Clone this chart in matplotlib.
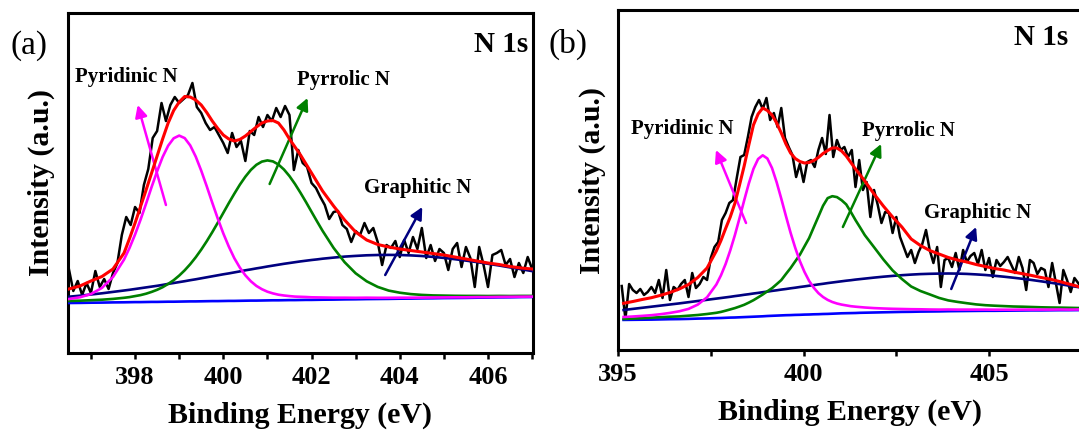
import numpy as np
import matplotlib
matplotlib.use("Agg")
import matplotlib.pyplot as plt
from matplotlib.ticker import MultipleLocator

plt.rcParams['font.family'] = ['Liberation Serif', 'DejaVu Serif']

# ---------------- panel (a) ----------------
# raw spectrum, 0.1 eV steps from 396.5 eV
a_raw_start = 396.5
a_raw = [84, 62, 72, 58, 70, 60, 82, 66, 74, 64,
         80, 90, 118, 136, 128, 146, 140, 168, 184, 215,
         222, 250, 232, 248, 256, 250, 254, 258, 270, 246,
         240, 230, 223, 226, 218, 210, 200, 220, 206, 212,
         192, 222, 218, 236, 226, 238, 232, 245, 236, 247,
         238, 183, 203, 190, 186, 170, 165, 156, 148, 134,
         141, 142, 128, 124, 111, 122, 118, 130, 120, 125,
         111, 88, 108, 105, 112, 96, 113, 100, 116, 104,
         125, 95, 108, 92, 104, 100, 83, 104, 110, 86,
         106, 95, 66, 106, 88, 66, 98, 100, 103, 88,
         94, 76, 90, 80, 96, 84]
# fitted curves
a_fit_x = [396.5, 396.75, 397.0, 397.25, 397.5, 397.75, 397.875, 398.0,
           398.125, 398.25, 398.375, 398.5, 398.625, 398.75, 398.875, 399.0,
           399.125, 399.25, 399.375, 399.5, 399.625, 399.75, 399.875, 400.0,
           400.125, 400.25, 400.375, 400.5, 400.625, 400.75, 400.875, 401.0,
           401.125, 401.25, 401.375, 401.5, 401.625, 401.75, 401.875, 402.0,
           402.125, 402.25, 402.5, 402.75, 403.0, 403.25, 403.5, 403.75,
           404.0, 404.25, 404.5, 404.75, 405.0, 405.25, 405.5, 405.75,
           406.0, 406.25, 406.5, 406.75, 407.0]
a_envelope = [64, 67, 72, 76.5, 84, 100, 114.5, 130,
              146.5, 163, 180, 197, 214, 230, 242.5, 251,
              256.5, 256, 253, 248, 240.5, 232, 224.5, 218,
              214, 212, 213.5, 217, 221.5, 226, 230, 232,
              232.5, 230, 223, 214, 206, 198, 189, 180,
              171, 162, 147, 133, 121, 113, 108.5, 106,
              104, 102.5, 101, 99.5, 98, 96, 94, 92,
              90, 88.5, 86.5, 85, 84]
a_pyridinic = [54.0, 55.7, 59.0, 65.1, 76.0, 93.4, 105.1, 118.5,
               133.4, 149.4, 166.0, 181.7, 196.0, 207.3, 214.7, 217.4,
               214.9, 207.6, 196.4, 182.3, 166.7, 150.3, 134.4, 119.6,
               106.4, 94.8, 85.4, 77.7, 71.7, 67.1, 63.8, 61.3,
               59.6, 58.3, 57.5, 56.9, 56.4, 56.2, 56.0, 55.7,
               55.6, 55.5, 55.3, 55.3, 55.2, 55.3, 55.2, 55.2,
               55.3, 55.3, 55.4, 55.5, 55.6, 55.7, 55.7, 55.9,
               55.9, 56.1, 56.2, 56.3, 56.4]
a_pyrrolic = [52.0, 52.3, 52.8, 53.3, 54.1, 55.2, 55.9, 56.9,
              57.9, 59.3, 61.1, 63.2, 65.8, 69.1, 72.8, 77.4,
              82.7, 88.8, 95.7, 103.4, 111.8, 120.8, 130.3, 140.1,
              149.9, 159.3, 168.3, 176.3, 183.1, 188.2, 191.4, 192.6,
              191.6, 188.5, 183.5, 176.9, 169.0, 160.2, 150.9, 141.2,
              131.6, 122.2, 105.1, 90.8, 79.7, 71.7, 66.1, 62.4,
              60.3, 58.9, 58.1, 57.6, 57.4, 57.2, 57.1, 57.1,
              57.0, 57.1, 57.0, 57.1, 57.1]
a_graphitic = [56.3, 57.3, 58.5, 59.7, 61.1, 62.5, 63.2, 64.0,
               64.8, 65.6, 66.4, 67.2, 68.1, 69.1, 70.0, 70.9,
               71.8, 72.8, 73.7, 74.7, 75.7, 76.7, 77.7, 78.7,
               79.6, 80.6, 81.6, 82.7, 83.6, 84.6, 85.5, 86.5,
               87.4, 88.3, 89.2, 90.0, 90.8, 91.6, 92.3, 93.0,
               93.6, 94.3, 95.4, 96.4, 97.1, 97.7, 98.0, 98.1,
               98.0, 97.6, 97.0, 96.1, 95.1, 93.8, 92.4, 90.9,
               89.2, 87.5, 85.6, 83.8, 81.9]
a_background = [50.0, 50.1, 50.3, 50.4, 50.6, 50.7, 50.8, 50.9,
                50.9, 51.0, 51.1, 51.1, 51.2, 51.3, 51.3, 51.4,
                51.5, 51.6, 51.6, 51.7, 51.8, 51.9, 51.9, 52.0,
                52.1, 52.1, 52.2, 52.3, 52.4, 52.4, 52.5, 52.6,
                52.7, 52.7, 52.8, 52.9, 52.9, 53.0, 53.1, 53.1,
                53.2, 53.3, 53.4, 53.6, 53.7, 53.9, 54.0, 54.1,
                54.3, 54.4, 54.6, 54.7, 54.9, 55.0, 55.1, 55.3,
                55.4, 55.6, 55.7, 55.9, 56.0]

# ---------------- panel (b) ----------------
b_raw_start = 395.1
b_raw = [64, 31, 66, 60, 57, 61, 55, 58, 63, 57,
         70, 52, 80, 50, 63, 60, 66, 70, 53, 77,
         62, 66, 73, 70, 92, 103, 108, 130, 137, 147,
         150, 172, 193, 195, 213, 233, 243, 250, 241, 252,
         230, 237, 223, 242, 212, 203, 195, 173, 186, 168,
         188, 190, 183, 200, 212, 196, 235, 193, 210, 200,
         203, 193, 200, 163, 190, 160, 168, 133, 160, 145,
         127, 138, 137, 117, 133, 113, 103, 93, 100, 87,
         98, 106, 120, 100, 87, 103, 63, 90, 92, 83,
         97, 80, 100, 88, 94, 97, 86, 100, 80, 92,
         73, 90, 84, 88, 93, 85, 77, 93, 82, 60,
         90, 87, 76, 82, 80, 63, 87, 67, 47, 80,
         70, 58, 72, 67, 62]
b_fit_x = [395.15, 395.4, 395.65, 395.9, 396.15, 396.4, 396.65, 396.9,
           397.15, 397.4, 397.65, 397.775, 397.9, 398.025, 398.15, 398.275,
           398.4, 398.525, 398.65, 398.775, 398.9, 399.025, 399.15, 399.275,
           399.4, 399.525, 399.65, 399.775, 399.9, 400.025, 400.15, 400.275,
           400.4, 400.525, 400.65, 400.775, 400.9, 401.025, 401.15, 401.275,
           401.4, 401.525, 401.65, 401.9, 402.15, 402.4, 402.65, 402.9,
           403.15, 403.4, 403.65, 403.9, 404.15, 404.4, 404.65, 404.9,
           405.15, 405.4, 405.65, 405.9, 406.15, 406.4, 406.65, 406.9,
           407.15, 407.4, 407.65]
b_envelope = [46.7, 48.5, 50.5, 52.3, 54.7, 57.5, 61.0, 65.5,
              72.5, 82, 99, 109.5, 121.5, 133, 146.7, 165,
              184, 205, 225, 236, 242, 239.5, 235, 227,
              217, 206, 197, 191.5, 188.5, 187, 187.5, 189.5,
              192.5, 196.5, 199.5, 202, 202, 199, 194, 187.5,
              181, 175, 169, 156, 144, 133, 123, 111,
              104.5, 99.5, 96, 92.5, 90, 88, 85.5, 83.5,
              81.5, 80, 78, 76.3, 74.5, 72.5, 70.8, 68.5,
              66, 63.5, 61]
b_pyridinic = [33.0, 33.5, 34.1, 34.8, 35.8, 37.1, 38.7, 41.1,
               45.4, 52.7, 65.5, 74.7, 86.0, 99.6, 114.9, 131.9,
               149.6, 166.5, 181.1, 191.0, 194.7, 191.5, 182.0, 167.8,
               151.3, 134.0, 117.3, 102.3, 89.0, 78.1, 69.1, 62.3,
               56.9, 53.0, 50.1, 48.0, 46.5, 45.4, 44.6, 43.8,
               43.3, 42.9, 42.5, 41.9, 41.5, 41.2, 41.0, 40.8,
               40.7, 40.5, 40.4, 40.5, 40.4, 40.4, 40.4, 40.4,
               40.3, 40.3, 40.3, 40.4, 40.4, 40.4, 40.4, 40.5,
               40.4, 40.5, 40.6]
b_pyrrolic = [31.0, 31.4, 31.8, 32.3, 32.8, 33.3, 33.6, 34.3,
              35.0, 36.0, 37.2, 38.1, 39.3, 40.6, 41.9, 43.5,
              45.2, 47.4, 49.8, 52.6, 55.5, 58.7, 61.8, 65.8,
              69.9, 76.0, 81.9, 88.6, 95.2, 103.6, 111.9, 122.7,
              133.4, 144.2, 151.9, 153.8, 152.9, 149.8, 145.6, 138.0,
              129.9, 122.5, 114.9, 102.8, 90.6, 79.6, 71.0, 63.5,
              59.0, 55.6, 52.1, 49.6, 48.1, 46.8, 45.6, 44.8,
              44.3, 43.9, 43.5, 43.3, 43.0, 42.7, 42.5, 42.4,
              42.2, 42.0, 42.0]
b_graphitic = [40.0, 41.1, 42.2, 43.3, 44.4, 45.5, 46.6, 47.8,
               49.0, 50.2, 51.4, 52.0, 52.6, 53.2, 53.9, 54.5,
               55.2, 55.8, 56.5, 57.1, 57.8, 58.4, 59.1, 59.7,
               60.4, 61.0, 61.7, 62.3, 63.0, 63.6, 64.3, 64.9,
               65.6, 66.2, 66.9, 67.5, 68.1, 68.7, 69.3, 69.8,
               70.4, 70.9, 71.4, 72.4, 73.3, 74.1, 74.8, 75.4,
               75.9, 76.2, 76.4, 76.5, 76.4, 76.1, 75.6, 75.0,
               74.2, 73.3, 72.3, 71.2, 70.0, 68.7, 67.3, 65.9,
               64.4, 62.9, 61.4]
b_background = [30.1, 30.2, 30.3, 30.4, 30.6, 30.8, 30.9, 31.1,
                31.4, 31.6, 31.9, 32.0, 32.2, 32.4, 32.5, 32.7,
                32.9, 33.1, 33.3, 33.5, 33.7, 34.0, 34.2, 34.4,
                34.6, 34.8, 34.9, 35.1, 35.2, 35.4, 35.5, 35.7,
                35.8, 36.0, 36.1, 36.3, 36.5, 36.7, 36.8, 36.9,
                37.0, 37.2, 37.3, 37.5, 37.7, 37.9, 38.1, 38.2,
                38.4, 38.5, 38.6, 38.8, 38.9, 39.0, 39.1, 39.2,
                39.2, 39.3, 39.4, 39.5, 39.6, 39.6, 39.7, 39.8,
                39.8, 39.9, 40.0]


def draw_panel(ax, raw_start, raw, xf, env, pyri, pyrr, grap, bg):
    xr = raw_start + 0.1 * np.arange(len(raw))
    ax.plot(xr, raw, color='black', lw=1.8, zorder=2)
    ax.plot(xf, bg, color='#0000ff', lw=1.9, zorder=3)
    ax.plot(xf, grap, color='#000080', lw=1.9, zorder=3)
    ax.plot(xf, pyrr, color='#008000', lw=1.9, zorder=3)
    ax.plot(xf, pyri, color='#ff00ff', lw=1.9, zorder=3)
    ax.plot(xf, env, color='#ff0000', lw=2.2, zorder=4)


fig = plt.figure(figsize=(10.79, 4.32), dpi=100)
ax1 = fig.add_axes([68 / 1079, 1 - 353 / 432, 465 / 1079, 340 / 432])
ax2 = fig.add_axes([618 / 1079, 1 - 350 / 432, 464.6 / 1079, 340 / 432])

draw_panel(ax1, a_raw_start, a_raw, a_fit_x, a_envelope,
           a_pyridinic, a_pyrrolic, a_graphitic, a_background)
draw_panel(ax2, b_raw_start, b_raw, b_fit_x, b_envelope,
           b_pyridinic, b_pyrrolic, b_graphitic, b_background)

ax1.set_xlim(396.48, 407.02)
ax2.set_xlim(395.0, 407.52)
ax1.xaxis.set_major_locator(MultipleLocator(2))
ax1.xaxis.set_minor_locator(MultipleLocator(1))
ax2.xaxis.set_major_locator(MultipleLocator(5))
ax2.xaxis.set_minor_locator(MultipleLocator(2.5))

for ax in (ax1, ax2):
    ax.set_ylim(0, 340)
    ax.set_yticks([])
    for s in ax.spines.values():
        s.set_linewidth(2.2)
    ax.tick_params(axis='x', which='both', direction='out', length=4.5,
                   width=1.8, top=False, pad=5)
    ax.tick_params(axis='x', which='major', labelsize=19)
    for lab in ax.get_xticklabels():
        lab.set_fontweight('bold')
    ax.set_xlabel('Binding Energy (eV)', fontsize=21.5, fontweight='bold',
                  labelpad=9)
    ax.set_ylabel('Intensity (a.u.)', fontsize=21.5, fontweight='bold',
                  labelpad=9)

lab_kw = dict(fontsize=15, fontweight='bold', va='baseline')
arr = lambda c: dict(arrowstyle='-|>', color=c, lw=1.8, mutation_scale=18,
                     shrinkA=0, shrinkB=0)

# panel (a) annotations
ax1.text(396.64, 271, 'Pyridinic N', **lab_kw)
ax1.text(401.66, 268, 'Pyrrolic N', **lab_kw)
ax1.text(403.2, 160, 'Graphitic N', **lab_kw)
ax1.annotate('', xy=(398.06, 248), xytext=(398.70, 148), arrowprops=arr('#ff00ff'))
ax1.annotate('', xy=(401.91, 255), xytext=(401.05, 169), arrowprops=arr('#008000'))
ax1.annotate('', xy=(404.51, 146), xytext=(403.67, 78), arrowprops=arr('#000080'))
ax1.text(0.99, 0.885, 'N 1s', transform=ax1.transAxes, ha='right',
         va='baseline', fontsize=21, fontweight='bold')

# panel (b) annotations
ax2.text(395.35, 216, 'Pyridinic N', **lab_kw)
ax2.text(401.58, 214, 'Pyrrolic N', **lab_kw)
ax2.text(403.25, 132, 'Graphitic N', **lab_kw)
ax2.annotate('', xy=(397.64, 200), xytext=(398.45, 127), arrowprops=arr('#ff00ff'))
ax2.annotate('', xy=(402.09, 206), xytext=(401.06, 123), arrowprops=arr('#008000'))
ax2.annotate('', xy=(404.65, 123), xytext=(403.98, 61), arrowprops=arr('#000080'))
ax2.text(1068 / 1079, 1 - 45 / 432, 'N 1s', transform=fig.transFigure,
         ha='right', va='baseline', fontsize=21, fontweight='bold')

fig.text(10 / 1079, 1 - 54 / 432, '(a)', fontsize=24, va='baseline')
fig.text(548 / 1079, 1 - 53 / 432, '(b)', fontsize=24, va='baseline')

fig.savefig('out.png', dpi=100)
